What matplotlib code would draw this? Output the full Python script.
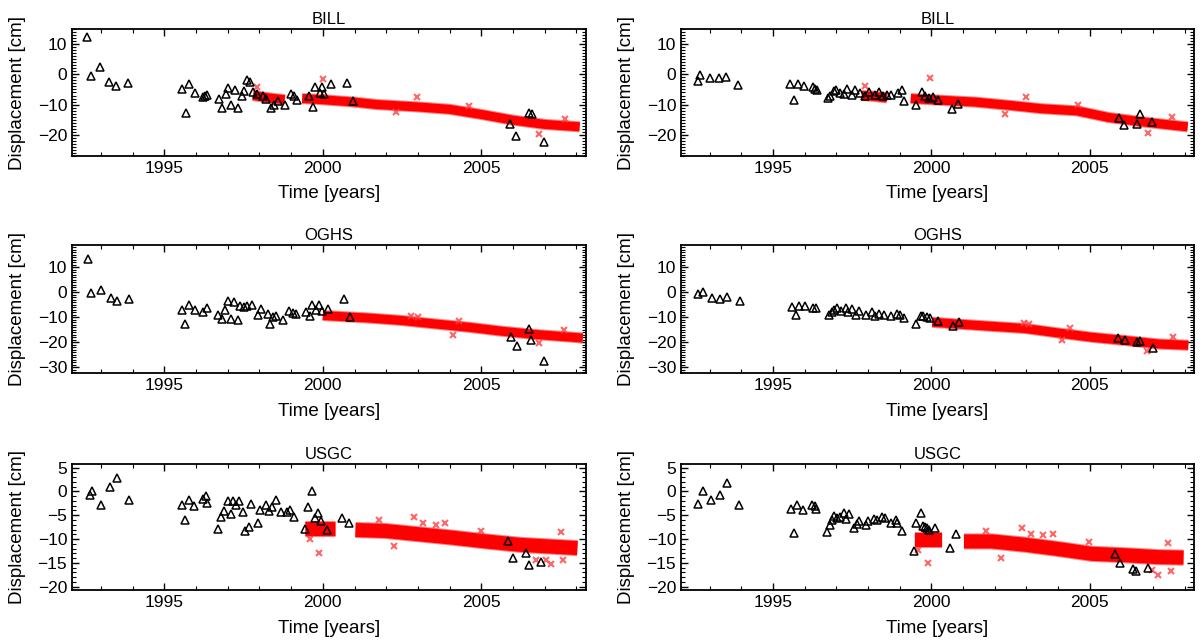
import numpy as np
import matplotlib
matplotlib.use('Agg')
import matplotlib.pyplot as plt
from matplotlib.ticker import MultipleLocator

plt.rcParams['font.family'] = ['Liberation Sans', 'DejaVu Sans']

nan = np.nan

# ---------------- BILL (left) ----------------
bill_a_tri_t = [1992.56, 1992.68, 1992.98, 1993.27, 1993.47, 1993.85, 1995.55, 1995.68, 1995.77, 1995.98,
                1996.23, 1996.30, 1996.35, 1996.72, 1996.82, 1996.94, 1997.02, 1997.12, 1997.23, 1997.32,
                1997.44, 1997.53, 1997.60, 1997.70, 1997.80, 1997.94, 1998.10, 1998.20, 1998.37, 1998.45,
                1998.60, 1998.80, 1999.00, 1999.10, 1999.18, 1999.55, 1999.68, 1999.76, 1999.90, 1999.96,
                2000.04, 2000.25, 2000.76, 2000.95, 2005.91, 2006.10, 2006.49, 2006.59, 2006.96]
bill_a_tri_d = [12.5, -0.4, 2.4, -2.6, -3.7, -2.9, -5.0, -12.7, -3.1, -6.2,
                -7.6, -7.2, -6.7, -8.3, -11.1, -6.5, -4.5, -10.3, -5.3, -11.1,
                -7.0, -5.6, -2.0, -2.6, -5.9, -6.5, -7.2, -8.3, -11.1, -10.3,
                -8.9, -10.3, -6.5, -7.2, -8.6, -7.2, -10.9, -4.2, -6.3, -4.3,
                -6.5, -3.3, -2.7, -8.9, -16.6, -20.5, -12.7, -13.0, -22.3]
bill_a_gps_t = [1997.8, 1998.3, 1998.8, nan, 1999.35, 2000.0, 2001.0, 2001.7, 2003.0, 2004.0,
                2005.0, 2006.0, 2007.0, 2008.1]
bill_a_gps_d = [-7.0, -7.8, -8.4, nan, -8.0, -8.4, -9.2, -10.0, -10.8, -11.6,
                -13.3, -15.2, -16.6, -17.4]
bill_a_out_t = [1997.94, 2000.0, 2002.30, 2002.98, 2004.60, 2006.82, 2007.64]
bill_a_out_d = [-4.2, -1.5, -12.6, -7.6, -10.6, -19.9, -14.9]

# ---------------- BILL (right) ----------------
bill_b_tri_t = [1992.63, 1992.70, 1993.01, 1993.30, 1993.51, 1993.88, 1995.55, 1995.66, 1995.78, 1995.97,
                1996.26, 1996.33, 1996.39, 1996.73, 1996.81, 1996.92, 1996.99, 1997.12, 1997.24, 1997.35,
                1997.48, 1997.59, 1997.74, 1997.90, 1998.03, 1998.22, 1998.35, 1998.48, 1998.59, 1998.74,
                1998.95, 1999.06, 1999.14, 1999.53, 1999.72, 1999.80, 1999.93, 2000.04, 2000.22, 2000.65,
                2000.84, 2005.93, 2006.09, 2006.51, 2006.59, 2006.98]
bill_b_tri_d = [-2.3, -0.1, -1.2, -1.2, -0.9, -3.4, -3.1, -8.6, -3.1, -4.0,
                -4.2, -4.8, -5.3, -7.8, -7.2, -5.6, -5.3, -6.2, -6.5, -4.8,
                -6.7, -5.3, -6.2, -7.2, -5.9, -6.7, -5.9, -7.0, -6.7, -6.7,
                -6.2, -5.3, -8.9, -10.3, -5.9, -7.0, -7.8, -7.5, -8.6, -11.4,
                -9.8, -14.6, -16.8, -16.4, -13.1, -15.7]
bill_b_gps_t = [1997.8, 1998.2, 1998.6, nan, 1999.35, 2000.0, 2001.4, 2002.5, 2003.5, 2004.6,
                2005.6, 2006.7, 2007.9, 2008.1]
bill_b_gps_d = [-7.0, -7.3, -7.8, nan, -8.0, -8.4, -9.2, -10.3, -11.4, -12.1,
                -14.3, -15.8, -17.2, -17.4]
bill_b_out_t = [1997.9, 1999.97, 2002.32, 2003.0, 2004.62, 2006.84, 2007.6]
bill_b_out_d = [-4.0, -1.2, -13.1, -7.6, -10.3, -19.4, -14.3]

# ---------------- OGHS (left) ----------------
oghs_a_tri_t = [1992.61, 1992.68, 1993.02, 1993.31, 1993.51, 1993.88, 1995.57, 1995.66, 1995.78, 1995.97,
                1996.23, 1996.34, 1996.71, 1996.81, 1996.92, 1997.00, 1997.11, 1997.20, 1997.31, 1997.39,
                1997.50, 1997.61, 1997.76, 1997.97, 1998.06, 1998.26, 1998.35, 1998.42, 1998.53, 1998.74,
                1998.93, 1999.06, 1999.14, 1999.48, 1999.59, 1999.67, 1999.78, 1999.88, 1999.96, 2000.17,
                2000.67, 2000.86, 2005.93, 2006.11, 2006.49, 2006.58, 2006.98]
oghs_a_tri_d = [13.5, -0.3, 0.8, -2.3, -3.3, -2.5, -6.9, -12.7, -4.9, -7.2,
                -7.9, -6.3, -8.9, -10.7, -6.9, -3.6, -10.7, -4.0, -10.9, -5.6,
                -6.0, -5.6, -5.2, -8.9, -6.5, -8.7, -12.7, -10.0, -9.6, -11.2,
                -7.6, -8.3, -8.7, -7.9, -9.6, -4.9, -6.9, -4.9, -7.3, -6.7,
                -2.5, -9.9, -17.7, -21.6, -14.7, -18.9, -27.6]
oghs_a_gps_t = [2000.0, 2001.44, 2002.5, 2003.56, 2004.61, 2005.66, 2006.71, 2008.2]
oghs_a_gps_d = [-9.3, -10.3, -11.3, -12.7, -14.0, -15.6, -16.9, -18.3]
oghs_a_out_t = [2002.78, 2002.99, 2004.10, 2004.30, 2006.81, 2007.60]
oghs_a_out_d = [-9.6, -10.0, -16.9, -11.3, -20.3, -14.9]

# ---------------- OGHS (right) ----------------
oghs_b_tri_t = [1992.64, 1992.77, 1993.07, 1993.33, 1993.54, 1993.95, 1995.59, 1995.72, 1995.82, 1996.01,
                1996.26, 1996.37, 1996.77, 1996.85, 1996.92, 1997.03, 1997.13, 1997.29, 1997.38, 1997.48,
                1997.61, 1997.71, 1997.94, 1998.11, 1998.22, 1998.36, 1998.50, 1998.71, 1998.90, 1999.00,
                1999.13, 1999.50, 1999.66, 1999.73, 1999.87, 1999.97, 2000.22, 2000.68, 2000.87, 2005.91,
                2006.12, 2006.49, 2006.60, 2006.99]
oghs_b_tri_d = [-0.5, 0.0, -2.3, -2.7, -1.9, -3.3, -6.0, -8.9, -5.6, -5.6,
                -6.3, -6.3, -9.2, -7.9, -6.9, -6.3, -7.3, -6.3, -7.9, -6.5,
                -9.2, -7.6, -8.9, -7.9, -9.6, -8.7, -9.2, -9.6, -8.7, -9.2,
                -10.3, -12.7, -9.6, -9.3, -9.9, -10.3, -11.6, -13.6, -11.9, -18.3,
                -18.9, -19.9, -19.6, -22.3]
oghs_b_gps_t = [2000.03, 2001.39, 2002.97, 2004.02, 2005.07, 2006.12, 2007.18, 2008.12]
oghs_b_gps_d = [-12.0, -13.2, -14.5, -16.3, -18.0, -19.3, -20.7, -21.2]
oghs_b_out_t = [2002.92, 2003.08, 2004.13, 2004.39, 2006.81, 2007.65]
oghs_b_out_d = [-12.3, -12.7, -18.9, -14.3, -23.3, -18.0]

# ---------------- USGC (left) ----------------
usgc_a_tri_t = [1992.65, 1992.72, 1993.02, 1993.30, 1993.52, 1993.88, 1995.57, 1995.65, 1995.78, 1995.95,
                1996.23, 1996.32, 1996.34, 1996.71, 1996.79, 1996.87, 1997.00, 1997.10, 1997.18, 1997.26,
                1997.36, 1997.47, 1997.55, 1997.66, 1997.74, 1997.95, 1998.02, 1998.20, 1998.31, 1998.41,
                1998.52, 1998.68, 1998.87, 1998.97, 1999.08, 1999.45, 1999.53, 1999.66, 1999.74, 1999.85,
                1999.95, 2000.13, 2000.61, 2000.82, 2005.85, 2006.00, 2006.40, 2006.51, 2006.88]
usgc_a_tri_d = [-0.7, 0.0, -2.8, 1.0, 2.8, -1.9, -2.8, -6.1, -1.9, -3.1,
                -1.5, -0.9, -2.4, -7.9, -5.4, -4.1, -2.1, -4.7, -2.1, -2.9,
                -2.1, -4.3, -8.4, -7.4, -2.6, -6.7, -3.8, -2.8, -4.1, -3.2,
                -1.9, -4.3, -4.3, -3.8, -5.4, -7.9, -3.2, 0.0, -5.5, -4.5,
                -6.3, -8.1, -5.5, -6.7, -10.5, -13.9, -13.0, -15.5, -14.8]
usgc_a_gps_t = [1999.45, 1999.9, 2000.4, nan, 2001.03, 2001.98, 2003.03, 2004.08, 2005.14, 2006.19,
                2007.24, 2008.03]
usgc_a_gps_d = [-7.9, -7.9, -7.9, nan, -8.1, -8.3, -9.0, -9.7, -10.5, -11.2,
                -11.6, -11.9]
usgc_a_out_t = [1999.60, 1999.89, 2001.77, 2002.24, 2002.87, 2003.16, 2003.56, 2003.85, 2004.98, 2006.72,
                2007.03, 2007.19, 2007.56, 2007.51]
usgc_a_out_d = [-10.0, -12.9, -6.0, -11.4, -5.4, -6.6, -7.0, -6.7, -8.4, -14.3,
                -14.3, -15.3, -14.3, -8.6]

# ---------------- USGC (right) ----------------
usgc_b_tri_t = [1992.64, 1992.77, 1993.04, 1993.33, 1993.53, 1993.91, 1995.56, 1995.66, 1995.77, 1995.95,
                1996.22, 1996.32, 1996.37, 1996.71, 1996.79, 1996.85, 1996.92, 1997.01, 1997.11, 1997.24,
                1997.31, 1997.40, 1997.56, 1997.66, 1997.73, 1997.92, 1998.01, 1998.19, 1998.29, 1998.45,
                1998.53, 1998.71, 1998.87, 1998.92, 1999.08, 1999.45, 1999.53, 1999.66, 1999.73, 1999.80,
                1999.87, 1999.94, 2000.13, 2000.58, 2000.79, 2005.81, 2005.97, 2006.36, 2006.47, 2006.84]
usgc_b_tri_d = [-2.6, 0.0, -1.9, -0.8, 1.7, -2.8, -3.6, -8.8, -2.8, -4.0,
                -2.8, -3.0, -3.6, -8.6, -7.0, -5.9, -5.2, -5.5, -5.4, -4.5,
                -5.7, -4.7, -7.7, -6.9, -6.3, -7.0, -6.2, -5.7, -6.1, -5.4,
                -5.5, -6.6, -6.0, -6.6, -8.3, -12.6, -6.6, -4.6, -7.2, -7.4,
                -7.6, -8.1, -7.7, -11.9, -9.0, -13.2, -15.0, -16.2, -16.7, -16.1]
usgc_b_gps_t = [1999.48, 1999.9, 2000.34, nan, 2001.03, 2001.92, 2002.97, 2004.02, 2005.07, 2006.12,
                2007.18, 2007.97]
usgc_b_gps_d = [-10.2, -10.2, -10.2, nan, -10.5, -10.5, -11.2, -12.1, -13.1, -13.4,
                -13.8, -13.9]
usgc_b_out_t = [1999.58, 1999.89, 2001.73, 2002.21, 2002.87, 2003.16, 2003.53, 2003.84, 2004.97, 2006.97,
                2007.16, 2007.58, 2007.47]
usgc_b_out_d = [-12.3, -15.0, -8.4, -13.9, -7.7, -9.0, -9.2, -9.0, -10.7, -16.4,
                -17.6, -16.7, -10.9]

titles = ['BILL', 'BILL', 'OGHS', 'OGHS', 'USGC', 'USGC']
ylims = [(-27, 15), (-27, 15), (-32.3, 18.8), (-32.3, 18.8), (-20.7, 5.7), (-20.7, 5.7)]
ymajor = [10, 10, 10, 10, 5, 5]
band_px = [9, 9, 9, 9, 14, 14]

series = [
    (bill_a_tri_t, bill_a_tri_d, bill_a_gps_t, bill_a_gps_d, bill_a_out_t, bill_a_out_d),
    (bill_b_tri_t, bill_b_tri_d, bill_b_gps_t, bill_b_gps_d, bill_b_out_t, bill_b_out_d),
    (oghs_a_tri_t, oghs_a_tri_d, oghs_a_gps_t, oghs_a_gps_d, oghs_a_out_t, oghs_a_out_d),
    (oghs_b_tri_t, oghs_b_tri_d, oghs_b_gps_t, oghs_b_gps_d, oghs_b_out_t, oghs_b_out_d),
    (usgc_a_tri_t, usgc_a_tri_d, usgc_a_gps_t, usgc_a_gps_d, usgc_a_out_t, usgc_a_out_d),
    (usgc_b_tri_t, usgc_b_tri_d, usgc_b_gps_t, usgc_b_gps_d, usgc_b_out_t, usgc_b_out_d),
]

W, H = 1204, 640
col_x = [(72, 514), (681, 513)]
row_y = [(29.3, 126.4), (245.3, 127.7), (464.3, 125.7)]

fig = plt.figure(figsize=(W / 100, H / 100), dpi=100)

for k, (tri_t, tri_d, gps_t, gps_d, out_t, out_d) in enumerate(series):
    r, c = divmod(k, 2)
    x0, w = col_x[c]
    y0, h = row_y[r]
    ax = fig.add_axes([x0 / W, 1 - (y0 + h) / H, w / W, h / H])

    lw = band_px[k] * 0.72
    # dense GPS band
    ax.plot(gps_t, gps_d, '-', color='#ff8080', lw=lw + 1.5, solid_capstyle='butt', zorder=2)
    ax.plot(gps_t, gps_d, '-', color='#ff0000', lw=lw, solid_capstyle='butt', zorder=3)
    ax.plot(out_t, out_d, 'x', color='#ff4040', ms=4.5, mew=1.5, alpha=0.8, zorder=3)
    # campaign points
    ax.plot(tri_t, tri_d, '^', mfc='none', mec='black', ms=6, mew=1.1, zorder=4)

    ax.set_xlim(1992.09, 2008.3)
    ax.set_ylim(*ylims[k])
    ax.xaxis.set_major_locator(MultipleLocator(5))
    ax.xaxis.set_minor_locator(MultipleLocator(1))
    ax.yaxis.set_major_locator(MultipleLocator(ymajor[k]))
    ax.yaxis.set_minor_locator(MultipleLocator(1))
    ax.tick_params(which='both', direction='in', top=True, right=True, labelsize=12.5, pad=3.5)
    ax.tick_params(which='major', length=5, width=1)
    ax.tick_params(which='minor', length=3, width=0.8)
    for sp in ax.spines.values():
        sp.set_linewidth(1.3)

    ax.set_title(titles[k], fontsize=12, pad=4)
    ax.set_xlabel('Time [years]', fontsize=13.5)
    ax.xaxis.set_label_coords(0.5, -0.235)
    ax.set_ylabel('Displacement [cm]', fontsize=13.5)
    ax.yaxis.set_label_coords(-0.107, 0.5)
    ax.yaxis.label.set_va('center')

fig.savefig('out.png', dpi=100)
